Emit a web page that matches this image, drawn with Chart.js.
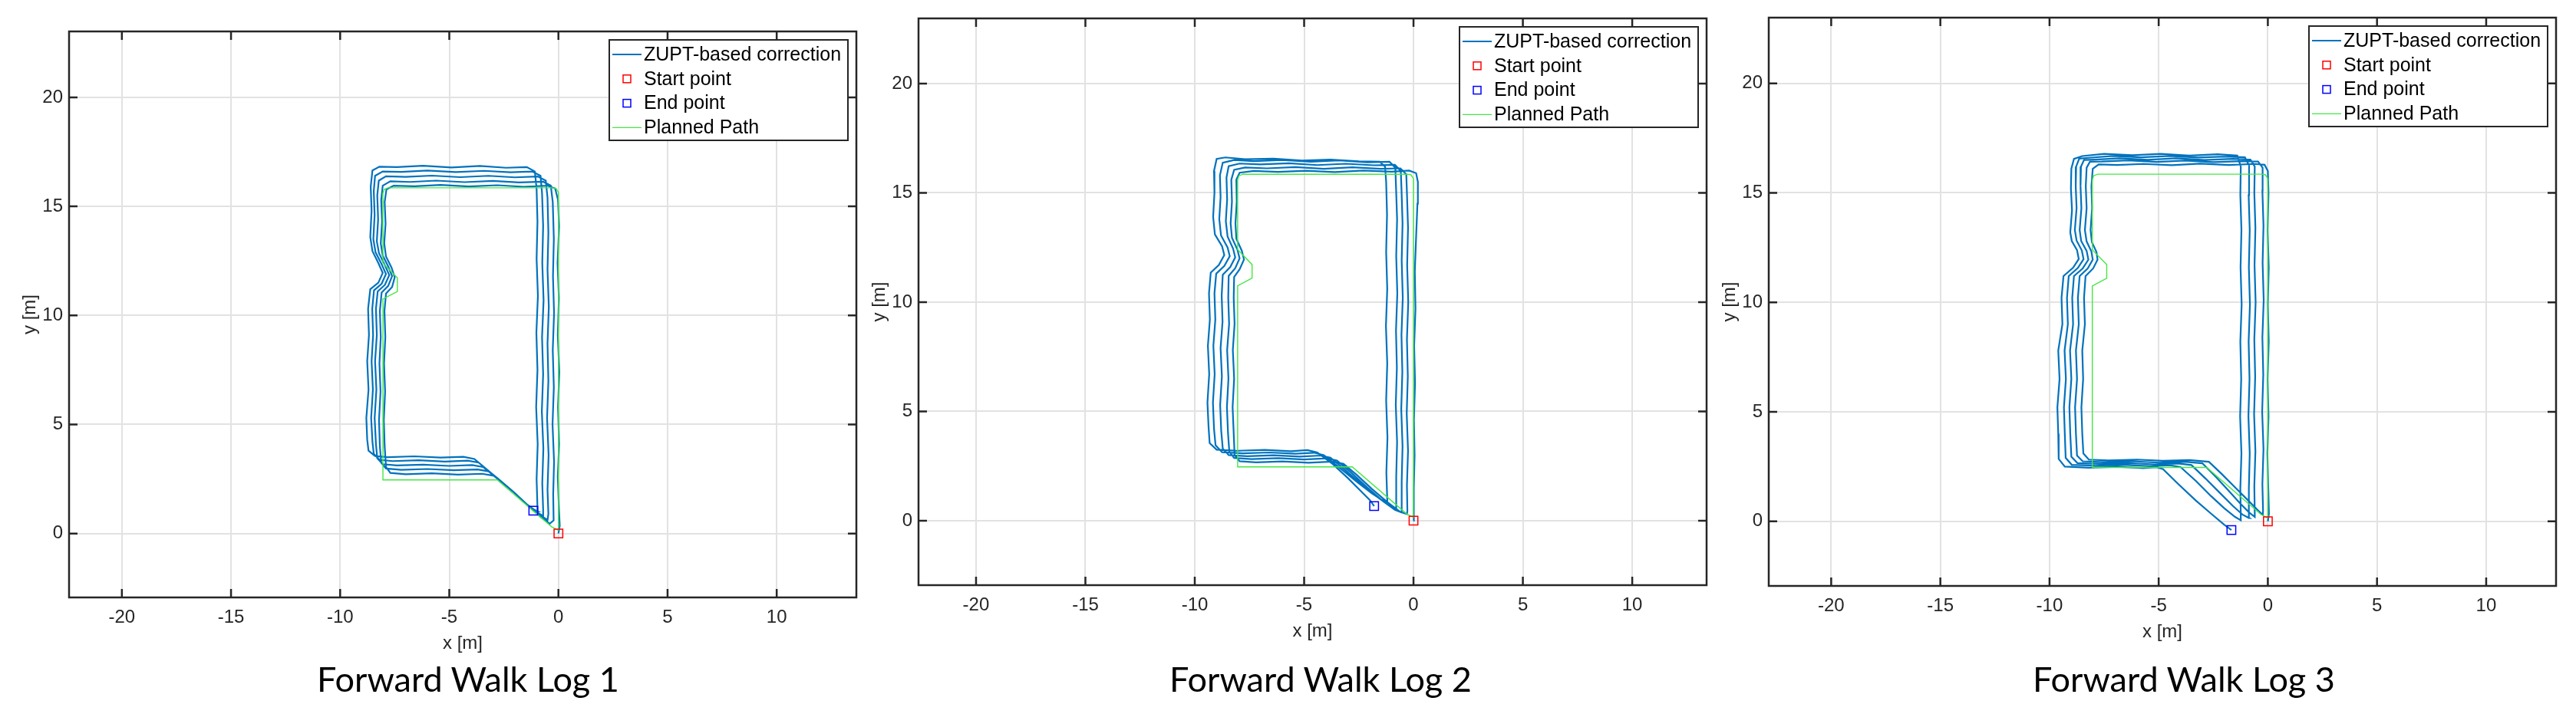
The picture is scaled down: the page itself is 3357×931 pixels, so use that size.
<!DOCTYPE html>
<html>
<head>
<meta charset="utf-8">
<script src="https://cdn.jsdelivr.net/npm/chart.js@4.4.1/dist/chart.umd.min.js"></script>
<style>
  body { margin: 0; background: #fff; width: 3357px; height: 931px; position: relative; overflow: hidden; }
  canvas { position: absolute; top: 0; }
  .caption { position: absolute; width: 700px; text-align: center; font-family: Lato, sans-serif;
             font-size: 45px; line-height: 44px; color: #000; top: 863px; }
</style>
</head>
<body>
<canvas id="log1" width="1140" height="931" style="left:0px"></canvas>
<canvas id="log2" width="1140" height="931" style="left:1107px"></canvas>
<canvas id="log3" width="1140" height="931" style="left:2215px"></canvas>
<div class="caption" style="left:260px">Forward Walk Log 1</div>
<div class="caption" style="left:1371px">Forward Walk Log 2</div>
<div class="caption" style="left:2496px">Forward Walk Log 3</div>
<script>
// tick labels
const xTicks = [-20, -15, -10, -5, 0, 5, 10]
const yTicks = [0, 5, 10, 15, 20]

const startPoint = [0, 0]
const endPoints = [[-1.15, 1.05], [-1.8, 0.67], [-1.67, -0.4]]

// planned route (same for every log)
const plannedPath = [
  [0, 0.15], [0, 15.65], [-0.12, 15.83], [-0.3, 15.85], [-7.8, 15.85], [-7.98, 15.78], [-8.04, 15.6],
  [-8.04, 12.4], [-7.38, 11.72], [-7.38, 11.1], [-8.04, 10.75], [-8.04, 2.46], [-2.8, 2.46], [-0.3, 0.3], [0, 0.15]
]

// ZUPT corrected track, log 1 (5 laps)
const log1Track = [
  [0,0],[0.06,0.35],[0.02,1.2],[-0.03,2.6],[0.03,4.1],[-0.02,5.8],[0.04,7.4],[-0.03,9.1],[0.02,10.8],[-0.04,12.4],[0.03,14.1],[-0.02,15.3],[-0.15,15.82],[-0.5,15.95],[-1.6,15.9],[-2.8,15.97],[-4.1,15.91],[-5.4,15.98],[-6.6,15.92],[-7.55,15.95],[-7.88,15.78],[-7.96,15.2],[-7.92,14.2],[-7.98,13.3],[-7.9,12.7],[-7.65,12.2],[-7.5,11.75],[-7.62,11.3],[-7.9,11.0],[-7.97,10.2],[-7.93,9.0],[-7.99,7.8],[-7.94,6.5],[-8.0,5.2],[-7.96,4.0],[-7.9,3.05],[-7.7,2.78],[-7.0,2.72],[-5.8,2.76],[-4.6,2.7],[-3.5,2.74],[-2.95,2.65],[-2.75,2.48],[-2.0,1.86],[-1.4,1.3],[-0.8,0.75],[-0.4,0.45],
  [-0.22,0.6],[-0.24,1.8],[-0.2,3.3],[-0.27,5.0],[-0.21,6.7],[-0.26,8.4],[-0.2,10.1],[-0.25,11.8],[-0.21,13.5],[-0.26,15.2],[-0.35,15.95],[-0.7,16.13],[-1.8,16.1],[-3.0,16.17],[-4.3,16.11],[-5.6,16.18],[-6.8,16.12],[-7.7,16.15],[-8.05,15.95],[-8.12,15.3],[-8.08,14.3],[-8.14,13.3],[-8.05,12.75],[-7.8,12.25],[-7.62,11.8],[-7.8,11.35],[-8.1,11.05],[-8.18,10.2],[-8.14,9.0],[-8.2,7.8],[-8.15,6.5],[-8.22,5.2],[-8.18,4.0],[-8.12,3.25],[-7.9,2.98],[-7.2,2.92],[-6.0,2.96],[-4.8,2.9],[-3.7,2.94],[-3.2,2.85],[-2.78,2.5],[-2.05,1.9],[-1.42,1.3],[-0.9,0.88],[-0.5,0.62],
  [-0.46,0.9],[-0.5,2.0],[-0.45,3.6],[-0.52,5.3],[-0.46,7.0],[-0.5,8.7],[-0.44,10.4],[-0.5,12.1],[-0.46,13.8],[-0.5,15.4],[-0.58,16.18],[-0.95,16.37],[-2.0,16.33],[-3.2,16.4],[-4.5,16.34],[-5.8,16.41],[-7.0,16.35],[-7.9,16.38],[-8.23,16.18],[-8.3,15.5],[-8.26,14.4],[-8.32,13.4],[-8.22,12.85],[-7.95,12.3],[-7.75,11.85],[-7.95,11.4],[-8.28,11.1],[-8.36,10.3],[-8.32,9.1],[-8.4,7.9],[-8.34,6.6],[-8.42,5.3],[-8.36,4.1],[-8.3,3.45],[-8.05,3.18],[-7.4,3.12],[-6.2,3.16],[-5.0,3.1],[-3.95,3.14],[-3.45,3.05],[-2.8,2.52],[-2.08,1.92],[-1.45,1.33],[-1.0,0.98],[-0.72,0.82],
  [-0.7,1.1],[-0.74,2.3],[-0.69,3.9],[-0.76,5.6],[-0.7,7.3],[-0.75,9.0],[-0.68,10.7],[-0.74,12.4],[-0.7,14.1],[-0.75,15.6],[-0.82,16.4],[-1.2,16.6],[-2.2,16.56],[-3.4,16.63],[-4.7,16.57],[-6.0,16.64],[-7.2,16.58],[-8.05,16.6],[-8.4,16.4],[-8.46,15.7],[-8.42,14.6],[-8.48,13.5],[-8.38,12.9],[-8.1,12.35],[-7.9,11.9],[-8.1,11.45],[-8.45,11.15],[-8.53,10.3],[-8.49,9.1],[-8.56,7.9],[-8.5,6.6],[-8.58,5.3],[-8.52,4.2],[-8.46,3.65],[-8.2,3.38],[-7.6,3.32],[-6.4,3.36],[-5.2,3.3],[-4.15,3.34],[-3.65,3.25],[-2.82,2.55],[-2.1,1.94],[-1.48,1.36],[-1.12,1.1],[-0.95,1.02],
  [-0.96,1.2],[-1.0,2.5],[-0.95,4.1],[-1.02,5.8],[-0.96,7.5],[-1.01,9.2],[-0.94,10.9],[-1.0,12.6],[-0.96,14.3],[-1.0,15.8],[-1.08,16.6],[-1.45,16.8],[-2.4,16.77],[-3.6,16.85],[-4.9,16.78],[-6.2,16.86],[-7.4,16.8],[-8.2,16.82],[-8.52,16.65],[-8.6,15.9],[-8.56,14.8],[-8.62,13.6],[-8.52,12.95],[-8.25,12.4],[-8.05,11.95],[-8.25,11.5],[-8.62,11.2],[-8.72,10.3],[-8.68,9.1],[-8.76,7.9],[-8.7,6.6],[-8.8,5.3],[-8.76,4.3],[-8.7,3.8],[-8.4,3.55],[-7.8,3.5],[-6.6,3.54],[-5.4,3.48],[-4.35,3.52],[-3.85,3.42],[-3.3,2.95],[-2.8,2.54],[-2.1,1.95],[-1.5,1.38],[-1.15,1.05]
]

// ZUPT corrected track, log 2
const log2Track = [
  [0,0],[0.03,0.4],[0.0,1.5],[0.05,3.0],[0.02,4.6],[0.07,6.3],[0.03,8.0],[0.09,9.7],[0.06,11.4],[0.12,13.0],[0.18,14.5],[0.2,15.5],[0.12,15.9],[-0.2,16.02],[-1.0,15.97],[-2.3,16.02],[-3.6,15.95],[-4.9,16.01],[-6.2,15.96],[-7.3,16.0],[-7.95,15.92],[-8.1,15.6],[-8.08,14.6],[-8.14,13.6],[-8.1,12.9],[-7.85,12.35],[-7.75,11.95],[-7.95,11.5],[-8.2,11.15],[-8.22,10.2],[-8.18,9.0],[-8.26,7.8],[-8.2,6.5],[-8.27,5.2],[-8.22,4.0],[-8.18,3.0],[-7.95,2.72],[-7.2,2.67],[-6.0,2.71],[-4.8,2.65],[-3.7,2.7],[-3.2,2.6],[-2.6,2.1],[-1.9,1.45],[-1.2,0.85],[-0.6,0.4],[-0.3,0.3],
  [-0.28,0.45],[-0.3,1.6],[-0.25,3.2],[-0.31,4.9],[-0.26,6.6],[-0.3,8.3],[-0.24,10.0],[-0.29,11.7],[-0.25,13.4],[-0.3,15.0],[-0.33,15.85],[-0.6,16.12],[-1.5,16.1],[-2.8,16.17],[-4.1,16.1],[-5.4,16.18],[-6.7,16.12],[-7.7,16.16],[-8.2,16.05],[-8.33,15.6],[-8.3,14.6],[-8.36,13.6],[-8.3,12.95],[-8.05,12.4],[-7.95,12.0],[-8.15,11.55],[-8.45,11.2],[-8.47,10.2],[-8.43,9.0],[-8.52,7.8],[-8.46,6.5],[-8.53,5.2],[-8.48,4.0],[-8.42,3.15],[-8.2,2.87],[-7.4,2.82],[-6.2,2.86],[-5.0,2.8],[-3.95,2.85],[-3.5,2.75],[-2.85,2.2],[-2.1,1.5],[-1.4,0.9],[-0.85,0.5],[-0.55,0.38],
  [-0.53,0.55],[-0.55,1.8],[-0.5,3.4],[-0.56,5.1],[-0.51,6.8],[-0.55,8.5],[-0.49,10.2],[-0.54,11.9],[-0.5,13.6],[-0.55,15.2],[-0.58,16.0],[-0.85,16.28],[-1.8,16.26],[-3.1,16.33],[-4.4,16.27],[-5.7,16.35],[-7.0,16.3],[-7.95,16.34],[-8.45,16.22],[-8.55,15.7],[-8.52,14.7],[-8.58,13.7],[-8.5,13.0],[-8.25,12.45],[-8.15,12.05],[-8.38,11.6],[-8.72,11.25],[-8.77,10.3],[-8.73,9.1],[-8.82,7.9],[-8.76,6.6],[-8.84,5.3],[-8.79,4.1],[-8.72,3.3],[-8.45,3.0],[-7.6,2.95],[-6.4,2.99],[-5.2,2.93],[-4.25,2.98],[-3.8,2.88],[-3.1,2.3],[-2.3,1.6],[-1.6,1.05],[-1.1,0.68],[-0.8,0.52],
  [-0.78,0.7],[-0.8,2.0],[-0.75,3.6],[-0.81,5.3],[-0.76,7.0],[-0.8,8.7],[-0.74,10.4],[-0.79,12.1],[-0.75,13.8],[-0.8,15.3],[-0.83,16.15],[-1.1,16.42],[-2.1,16.4],[-3.4,16.48],[-4.7,16.42],[-6.0,16.5],[-7.3,16.45],[-8.2,16.5],[-8.72,16.38],[-8.85,15.8],[-8.82,14.8],[-8.88,13.8],[-8.8,13.05],[-8.5,12.5],[-8.4,12.1],[-8.65,11.65],[-9.02,11.3],[-9.1,10.4],[-9.06,9.2],[-9.15,8.0],[-9.09,6.7],[-9.17,5.4],[-9.12,4.2],[-9.05,3.45],[-8.75,3.13],[-7.8,3.08],[-6.6,3.12],[-5.4,3.06],[-4.55,3.11],[-4.1,3.0],[-3.35,2.4],[-2.55,1.75],[-1.9,1.25],[-1.45,0.95],[-1.2,0.85],
  [-1.2,0.95],[-1.24,2.2],[-1.19,3.8],[-1.25,5.5],[-1.2,7.2],[-1.26,8.9],[-1.2,10.6],[-1.25,12.3],[-1.21,14.0],[-1.25,15.5],[-1.3,16.2],[-1.55,16.42],[-2.5,16.44],[-3.8,16.52],[-5.1,16.48],[-6.4,16.56],[-7.7,16.54],[-8.6,16.62],[-9.0,16.55],[-9.12,16.0],[-9.1,15.0],[-9.16,13.9],[-9.08,13.1],[-8.75,12.55],[-8.65,12.15],[-8.9,11.7],[-9.27,11.35],[-9.35,10.4],[-9.31,9.2],[-9.4,8.0],[-9.34,6.7],[-9.42,5.4],[-9.37,4.3],[-9.32,3.55],[-9.0,3.25],[-8.0,3.2],[-6.8,3.24],[-5.6,3.18],[-4.85,3.23],[-4.4,3.12],[-3.7,2.6],[-3.0,1.95],[-2.4,1.35],[-2.0,0.95],[-1.8,0.67]
]

// ZUPT corrected track, log 3
const log3Track = [
  [0,0],[0.05,0.35],[0.02,1.5],[-0.02,3.1],[0.03,4.8],[-0.01,6.5],[0.04,8.2],[0.0,9.9],[0.04,11.6],[-0.01,13.3],[0.03,15.0],[0.0,16.0],[-0.15,16.28],[-0.6,16.32],[-1.8,16.27],[-3.1,16.33],[-4.4,16.26],[-5.7,16.32],[-6.9,16.27],[-7.75,16.3],[-8.02,16.1],[-8.08,15.3],[-8.05,14.3],[-8.12,13.3],[-8.06,12.75],[-7.85,12.3],[-7.8,11.95],[-8.0,11.55],[-8.35,11.2],[-8.42,10.2],[-8.38,9.0],[-8.5,7.8],[-8.46,6.5],[-8.54,5.2],[-8.5,4.0],[-8.45,3.1],[-8.2,2.82],[-7.3,2.78],[-6.0,2.82],[-4.8,2.76],[-3.6,2.8],[-2.7,2.72],[-2.1,2.15],[-1.5,1.55],[-0.9,0.95],[-0.45,0.5],[-0.23,0.3],
  [-0.22,0.5],[-0.25,1.7],[-0.2,3.3],[-0.26,5.0],[-0.21,6.7],[-0.25,8.4],[-0.19,10.1],[-0.24,11.8],[-0.2,13.5],[-0.25,15.1],[-0.24,16.15],[-0.45,16.43],[-1.2,16.45],[-2.5,16.4],[-3.8,16.47],[-5.1,16.41],[-6.4,16.48],[-7.6,16.43],[-8.15,16.42],[-8.3,16.15],[-8.34,15.3],[-8.3,14.3],[-8.38,13.3],[-8.3,12.78],[-8.08,12.32],[-8.02,11.95],[-8.25,11.55],[-8.62,11.2],[-8.7,10.2],[-8.66,9.0],[-8.79,7.8],[-8.74,6.5],[-8.83,5.2],[-8.79,4.0],[-8.74,3.0],[-8.48,2.74],[-7.5,2.7],[-6.2,2.74],[-5.0,2.68],[-3.8,2.72],[-3.0,2.65],[-2.4,2.05],[-1.8,1.4],[-1.25,0.8],[-0.85,0.4],[-0.6,0.2],
  [-0.6,0.4],[-0.62,1.6],[-0.57,3.2],[-0.63,4.9],[-0.58,6.6],[-0.62,8.3],[-0.56,10.0],[-0.61,11.7],[-0.57,13.4],[-0.62,15.0],[-0.6,16.2],[-0.8,16.52],[-1.6,16.55],[-2.9,16.5],[-4.2,16.58],[-5.5,16.51],[-6.8,16.58],[-7.9,16.52],[-8.42,16.5],[-8.56,16.2],[-8.58,15.3],[-8.54,14.3],[-8.62,13.3],[-8.55,12.8],[-8.3,12.35],[-8.22,11.95],[-8.48,11.55],[-8.88,11.2],[-8.96,10.2],[-8.92,9.0],[-9.06,7.8],[-9.0,6.5],[-9.09,5.2],[-9.05,4.0],[-9.0,2.95],[-8.72,2.66],[-7.7,2.62],[-6.4,2.66],[-5.2,2.6],[-4.1,2.64],[-3.5,2.57],[-2.85,1.95],[-2.2,1.3],[-1.6,0.7],[-1.15,0.3],[-0.86,0.15],
  [-0.86,0.35],[-0.88,1.5],[-0.83,3.1],[-0.89,4.8],[-0.84,6.5],[-0.88,8.2],[-0.82,9.9],[-0.87,11.6],[-0.83,13.3],[-0.88,14.9],[-0.86,16.25],[-1.05,16.62],[-1.9,16.66],[-3.2,16.61],[-4.5,16.68],[-5.8,16.62],[-7.1,16.68],[-8.2,16.6],[-8.64,16.56],[-8.78,16.2],[-8.8,15.3],[-8.76,14.3],[-8.84,13.3],[-8.76,12.82],[-8.52,12.37],[-8.44,11.97],[-8.7,11.57],[-9.12,11.2],[-9.2,10.2],[-9.16,9.0],[-9.31,7.8],[-9.25,6.5],[-9.34,5.2],[-9.3,4.0],[-9.26,2.9],[-8.98,2.58],[-7.9,2.54],[-6.6,2.58],[-5.4,2.52],[-4.5,2.56],[-4.0,2.48],[-3.3,1.85],[-2.6,1.15],[-2.0,0.6],[-1.5,0.2],[-1.24,0.05],
  [-1.24,0.3],[-1.26,1.5],[-1.21,3.1],[-1.27,4.8],[-1.22,6.5],[-1.26,8.2],[-1.2,9.9],[-1.25,11.6],[-1.21,13.3],[-1.26,14.9],[-1.24,16.2],[-1.4,16.7],[-2.3,16.76],[-3.6,16.7],[-4.9,16.78],[-6.2,16.72],[-7.5,16.78],[-8.5,16.68],[-8.88,16.55],[-9.0,16.1],[-9.02,15.2],[-8.97,14.2],[-9.05,13.2],[-8.98,12.8],[-8.74,12.38],[-8.66,11.98],[-8.92,11.58],[-9.36,11.2],[-9.45,10.2],[-9.41,9.0],[-9.6,7.8],[-9.54,6.5],[-9.64,5.2],[-9.6,4.0],[-9.58,2.85],[-9.3,2.5],[-8.2,2.45],[-6.9,2.49],[-5.7,2.43],[-5.1,2.47],[-4.8,2.38],[-4.1,1.7],[-3.3,0.95],[-2.6,0.35],[-2.0,-0.15],[-1.67,-0.4]
]

const tracks = [log1Track, log2Track, log3Track]

// axis window + padding of each panel
const panels = [
  { id: 'log1', x: [-22.42, 13.65], y: [-2.93, 23.02], pad: { left: 0, right: 24, top: 41, bottom: 42 } },
  { id: 'log2', x: [-22.63, 13.4], y: [-2.95, 22.98], pad: { left: 0, right: 23, top: 24, bottom: 58 } },
  { id: 'log3', x: [-22.86, 13.2], y: [-2.95, 23.0], pad: { left: 0, right: 24, top: 23, bottom: 57 } }
]

const axisColor = '#262626'
const tickFont = { family: 'Liberation Sans', size: 24 }

function toXY( list ) {
  return list.map(p => ({ x: p[0], y: p[1] }))
}

// box round the axes with inward ticks on all four sides, like matlab
const frame = {
  id: 'frame',
  afterDatasetsDraw( chart ) {
    const { ctx, chartArea: a, scales: { x, y } } = chart
    const len = 11
    ctx.save()
    ctx.strokeStyle = axisColor
    ctx.lineWidth = 2.5
    ctx.beginPath()
    x.ticks.forEach(t => {
      const px = x.getPixelForValue(t.value)
      ctx.moveTo(px, a.bottom); ctx.lineTo(px, a.bottom - len)
      ctx.moveTo(px, a.top); ctx.lineTo(px, a.top + len)
    })
    y.ticks.forEach(t => {
      const py = y.getPixelForValue(t.value)
      ctx.moveTo(a.left, py); ctx.lineTo(a.left + len, py)
      ctx.moveTo(a.right, py); ctx.lineTo(a.right - len, py)
    })
    ctx.stroke()
    ctx.strokeRect(a.left, a.top, a.right - a.left, a.bottom - a.top)
    ctx.restore()
  }
}

// legend box in the upper right corner
const legendBox = {
  id: 'legendBox',
  afterDraw( chart ) {
    const { ctx, chartArea: a } = chart
    const w = 311, h = 131
    const left = a.right - 11 - w, top = a.top + 11
    ctx.save()
    ctx.fillStyle = '#fff'
    ctx.fillRect(left, top, w, h)
    ctx.strokeStyle = axisColor
    ctx.lineWidth = 2
    ctx.strokeRect(left, top, w, h)
    ctx.font = '25px "Liberation Sans"'
    ctx.textBaseline = 'middle'
    chart.data.datasets.forEach(( ds, i ) => {
      const cy = top + 19 + i * 31.8
      ctx.strokeStyle = ds.borderColor
      ctx.lineWidth = ds.borderWidth
      if ( ds.showLine ) {
        ctx.beginPath()
        ctx.moveTo(left + 4, cy); ctx.lineTo(left + 42, cy)
        ctx.stroke()
      } else {
        ctx.strokeRect(left + 18, cy - 5, 10, 10)
      }
      ctx.fillStyle = '#000'
      ctx.fillText(ds.label, left + 45, cy + 1)
    })
    ctx.restore()
  }
}

panels.forEach(( p, i ) => {
  new Chart(document.getElementById(p.id), {
    type: 'scatter',
    data: {
      datasets: [
        { label: 'ZUPT-based correction', data: toXY(tracks[i]), showLine: true, borderColor: '#0072BD',
          borderWidth: 2.2, pointRadius: 0, tension: 0, order: 3 },
        { label: 'Start point', data: toXY([startPoint]), pointStyle: 'rect', pointRadius: 8,
          borderColor: '#ff0000', backgroundColor: 'rgba(0,0,0,0)', borderWidth: 1.5, order: 0 },
        { label: 'End point', data: toXY([endPoints[i]]), pointStyle: 'rect', pointRadius: 8,
          borderColor: '#0000ff', backgroundColor: 'rgba(0,0,0,0)', borderWidth: 1.5, order: 1 },
        { label: 'Planned Path', data: toXY(plannedPath), showLine: true, borderColor: '#45e645',
          borderWidth: 1.4, pointRadius: 0, tension: 0, order: 2 }
      ]
    },
    options: {
      responsive: false,
      animation: false,
      layout: { padding: p.pad },
      plugins: { legend: { display: false }, tooltip: { enabled: false } },
      scales: {
        x: {
          type: 'linear', min: p.x[0], max: p.x[1],
          afterBuildTicks: s => { s.ticks = xTicks.map(v => ({ value: v })) },
          afterFit: s => { s.height = 110 },
          grid: { color: '#e2e2e2', lineWidth: 2, drawTicks: false },
          border: { display: false },
          ticks: { padding: 12, color: axisColor, font: tickFont, callback: v => String(v) },
          title: { display: true, text: 'x [m]', color: axisColor, font: tickFont, padding: { top: 0, bottom: 35 } }
        },
        y: {
          type: 'linear', min: p.y[0], max: p.y[1],
          afterBuildTicks: s => { s.ticks = yTicks.map(v => ({ value: v })) },
          afterFit: s => { s.width = 90 },
          grid: { color: '#e2e2e2', lineWidth: 2, drawTicks: false },
          border: { display: false },
          ticks: { padding: 8, color: axisColor, font: tickFont, callback: v => String(v) },
          title: { display: true, text: 'y [m]', color: axisColor, font: tickFont, padding: { top: 25, bottom: 0 } }
        }
      }
    },
    plugins: [frame, legendBox]
  })
})
</script>
</body>
</html>
